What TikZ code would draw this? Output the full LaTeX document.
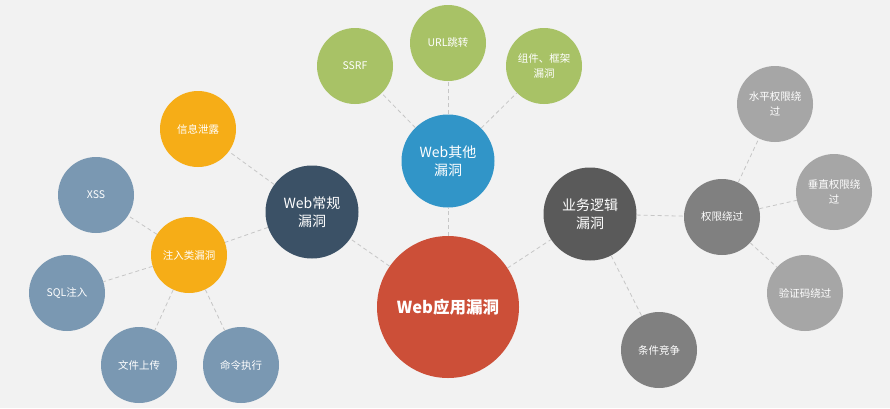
\documentclass[tikz,border=0pt]{standalone}
\usepackage{fontspec}
\setmainfont{Noto Sans CJK SC}
\definecolor{bg}{HTML}{F2F2F2}
\definecolor{cred}{HTML}{CC4F38}
\definecolor{cslate}{HTML}{3B5166}
\definecolor{cblue}{HTML}{3195C8}
\definecolor{cdark}{HTML}{5A5A5A}
\definecolor{corange}{HTML}{F6AD17}
\definecolor{csteel}{HTML}{7A98B2}
\definecolor{cgreen}{HTML}{A8C266}
\definecolor{cmid}{HTML}{808080}
\definecolor{clight}{HTML}{A6A6A6}
\definecolor{cline}{HTML}{C6C6C6}
\tikzset{
  bub/.style={circle, inner sep=0pt, text=white, align=center},
  big/.style={bub, minimum size=142pt, fill=cred, font=\fontsize{16.5}{20}\selectfont\bfseries},
  mid/.style={bub, minimum size=93pt, font=\fontsize{14}{18}\selectfont},
  sml/.style={bub, minimum size=76pt, font=\fontsize{10.5}{15}\selectfont},
  link/.style={draw=cline, line width=0.8pt, dash pattern=on 4pt off 3pt}
}
\begin{document}
\begin{tikzpicture}[x=1pt,y=-1pt]
\fill[bg] (0,0) rectangle (890,408);
\useasboundingbox (0,0) rectangle (890,408);
% nodes
\node[big] (root) at (448,307) {Web应用漏洞};
\node[mid, fill=cslate] (reg) at (312,212) {Web常规\\漏洞};
\node[mid, fill=cblue] (oth) at (448,161) {Web其他\\漏洞};
\node[mid, fill=cdark] (biz) at (590,214) {业务逻辑\\漏洞};
\node[sml, fill=corange] (info) at (198,129) {信息泄露};
\node[sml, fill=corange] (inj) at (189,255) {注入类漏洞};
\node[sml, fill=csteel] (xss) at (96,195) {XSS};
\node[sml, fill=csteel] (sql) at (67,293) {SQL注入};
\node[sml, fill=csteel] (upl) at (139,365) {文件上传};
\node[sml, fill=csteel] (cmd) at (241,365) {命令执行};
\node[sml, fill=cgreen] (ssrf) at (355,66) {SSRF};
\node[sml, fill=cgreen] (url) at (448,43) {URL跳转};
\node[sml, fill=cgreen] (comp) at (544,66) {组件、框架\\漏洞};
\node[sml, fill=cmid] (perm) at (722,217) {权限绕过};
\node[sml, fill=clight] (hor) at (775,104) {水平权限绕\\过};
\node[sml, fill=clight] (ver) at (834,192) {垂直权限绕\\过};
\node[sml, fill=clight] (cap) at (805,293) {验证码绕过};
\node[sml, fill=cmid] (race) at (659,350) {条件竞争};
% links
\foreach \a/\b in {root/reg, root/oth, root/biz, reg/info, reg/inj, inj/xss, inj/sql, inj/upl, inj/cmd, oth/ssrf, oth/url, oth/comp, biz/perm, biz/race, perm/hor, perm/ver, perm/cap}
  \draw[link] (\a) -- (\b);
\end{tikzpicture}
\end{document}
